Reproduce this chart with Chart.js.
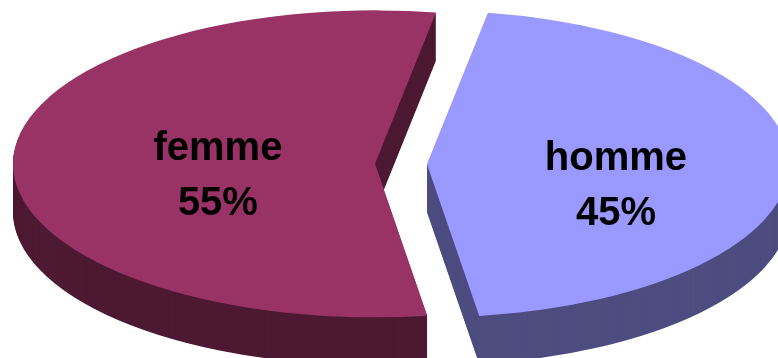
<!DOCTYPE html>
<html>
<head>
<meta charset="utf-8">
<script src="https://cdn.jsdelivr.net/npm/chart.js@4.4.1/dist/chart.umd.min.js"></script>
<style>
  html, body { margin: 0; padding: 0; background: #ffffff; overflow: hidden; }
  #wrap { width: 778px; height: 358px; }
</style>
</head>
<body>
<div id="wrap"><canvas id="pie" width="778" height="358"></canvas></div>
<script>
// ── Data ─────────────────────────────────────────────────────────
const labels = ['homme', 'femme'];
const values = [45, 55];

// ── Look ─────────────────────────────────────────────────────────
const TOP_COLORS  = ['#9999ff', '#993366'];
const SIDE_COLORS = ['#4d4d80', '#4d1933'];
const PIE_RADIUS = 150;     // before the ellipse squash
const ELLIPSE_RX = 362;     // final half-width of the disc, screen px
const ELLIPSE_RY = 153.5;   // final half-height of the disc
const EXPLODE_PX = 26;      // each slice pulled out along its middle angle
const DEPTH = 48;           // thickness of the disc, screen px
const START_DEG = 9.7;      // first slice starts just right of 12 o'clock
const LABEL_RADIUS = [0.522, 0.434];
const LABEL_DROP = [32.5, 24.5];
const LABEL_FONT = 'bold 40px "Liberation Sans", Arial, sans-serif';
const LINE_GAP = 55;

// chart.js' own offset trims the arc angles, which makes the cut
// faces non-parallel, so the explosion is done here instead
function placeArc(ctx, arc) {
    const mid = (arc.startAngle + arc.endAngle) / 2;
    const sx = ELLIPSE_RX / arc.outerRadius;
    const sy = ELLIPSE_RY / arc.outerRadius;
    ctx.translate(Math.cos(mid) * EXPLODE_PX, Math.sin(mid) * EXPLODE_PX * sy / sx);
    ctx.translate(arc.x, arc.y);
    ctx.scale(sx, sy);
    ctx.translate(-arc.x, -arc.y);
}

// draw an arc element again, same geometry, other fill colour
function drawArcAs(ctx, arc, color) {
    const ghost = Object.create(arc);
    ghost.options = Object.assign({}, arc.options, {
        backgroundColor: color,
        borderColor: color,
        borderWidth: 0,
    });
    arc.draw.call(ghost, ctx);
}

const pie3d = {
    id: 'pie3d',
    beforeDatasetsDraw(chart) {
        const ctx = chart.ctx;
        const arcs = chart.getDatasetMeta(0).data;
        // extrusion first: darker copies stacked below each top face
        arcs.forEach((arc, i) => {
            for (let d = DEPTH; d >= 1; d--) {
                ctx.save();
                ctx.translate(0, d);
                placeArc(ctx, arc);
                drawArcAs(ctx, arc, SIDE_COLORS[i]);
                ctx.restore();
            }
        });
        // then the top faces
        arcs.forEach((arc) => {
            ctx.save();
            placeArc(ctx, arc);
            arc.draw(ctx);
            ctx.restore();
        });
        return false;
    },
    afterDraw(chart) {
        const ctx = chart.ctx;
        const arcs = chart.getDatasetMeta(0).data;
        const total = values.reduce((a, b) => a + b, 0);
        ctx.save();
        ctx.font = LABEL_FONT;
        ctx.fillStyle = '#000000';
        ctx.textAlign = 'center';
        ctx.textBaseline = 'alphabetic';
        arcs.forEach((arc, i) => {
            const mid = (arc.startAngle + arc.endAngle) / 2;
            const k = ELLIPSE_RY / ELLIPSE_RX;
            const x = arc.x + Math.cos(mid) * (EXPLODE_PX + LABEL_RADIUS[i] * ELLIPSE_RX);
            const y = arc.y + Math.sin(mid) * (EXPLODE_PX * k + LABEL_RADIUS[i] * ELLIPSE_RY)
                + LABEL_DROP[i];
            const pct = Math.round(values[i] / total * 100) + '%';
            ctx.fillText(labels[i], x, y - LINE_GAP / 2);
            ctx.fillText(pct, x, y + LINE_GAP / 2);
        });
        ctx.restore();
    },
};

new Chart(document.getElementById('pie').getContext('2d'), {
    type: 'pie',
    data: {
        labels: labels,
        datasets: [{
            data: values,
            backgroundColor: TOP_COLORS,
            borderWidth: 0,
            offset: 0,
            hoverOffset: 0,
            radius: PIE_RADIUS,
            clip: false,
        }],
    },
    options: {
        responsive: false,
        animation: false,
        events: [],
        rotation: START_DEG,
        layout: { padding: { left: 24, right: 0, top: 0, bottom: 30 } },
        plugins: {
            legend: { display: false },
            tooltip: { enabled: false },
        },
    },
    plugins: [pie3d],
});
</script>
</body>
</html>
